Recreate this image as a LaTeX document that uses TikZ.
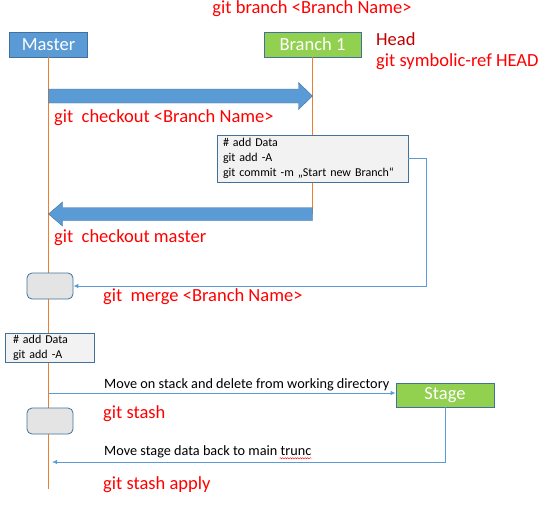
\documentclass[tikz,border=0pt]{standalone}
\usepackage{fontspec}
\setmainfont{Carlito}
\usetikzlibrary{arrows.meta,calc,decorations.pathmorphing}
\definecolor{mblue}{HTML}{5B9BD5}
\definecolor{bblue}{HTML}{41719C}
\definecolor{lgreen}{HTML}{92D050}
\definecolor{orng}{HTML}{ED7D31}
\definecolor{headred}{HTML}{C00000}
\definecolor{boxgray}{HTML}{F2F2F2}
\definecolor{rgray}{HTML}{E4E4E4}
\begin{document}
\begin{tikzpicture}[x=1pt,y=-1pt,
  hdr/.style={draw=bblue, line width=0.8pt, text=white, font=\fontsize{18.5}{20}\selectfont, inner sep=0pt, minimum height=25pt},
  cmd/.style={text=red, font=\fontsize{18.5}{20}\selectfont, anchor=west, inner sep=0pt},
  note/.style={text=black, font=\fontsize{14.25}{16}\selectfont, anchor=west, inner sep=0pt},
  codebox/.style={draw=bblue, fill=boxgray, line width=0.8pt, font=\fontsize{12}{15}\selectfont, align=left, inner ysep=0pt},
  rbox/.style={draw=bblue, fill=rgray, line width=0.8pt, rounded corners=5pt, minimum width=46pt, minimum height=26pt, inner sep=0pt},
  lifeline/.style={draw=orng, line width=1.6pt},
  conn/.style={draw=mblue, line width=0.9pt, -{Latex[length=5pt,width=4.5pt]}},
  bigarrow/.style={fill=mblue, draw=bblue, line width=0.4pt}
]
\useasboundingbox (0,0) rectangle (550,506);

% header boxes
\node[hdr, fill=mblue, minimum width=78pt] (master) at (48.5,44.5) {Master};
\node[hdr, fill=lgreen, minimum width=97pt] (branch) at (312.5,44.5) {Branch 1};

% lifeline end points
\coordinate (mend) at (48.5,489);
\coordinate (bend) at (312.5,214);
\draw[lifeline] (master.south) -- (mend);
\draw[lifeline] (branch.south) -- (bend);

% big arrows
\coordinate (ra1) at (48.5,96);
\coordinate (ra2) at (312.5,96);
\filldraw[bigarrow] ($(ra1)+(0,-7)$) -- ($(ra2)+(-14,-7)$) -- ($(ra2)+(-14,-13.5)$) -- (ra2)
  -- ($(ra2)+(-14,13.5)$) -- ($(ra2)+(-14,7)$) -- ($(ra1)+(0,7)$) -- cycle;
\coordinate (la1) at (312.5,214);
\coordinate (la2) at (48.5,214);
\filldraw[bigarrow] ($(la1)+(0,-6.5)$) -- ($(la2)+(14,-6.5)$) -- ($(la2)+(14,-12)$) -- (la2)
  -- ($(la2)+(14,12)$) -- ($(la2)+(14,6.5)$) -- ($(la1)+(0,6.5)$) -- cycle;

% boxes
\node[codebox, minimum width=191pt, minimum height=47pt, inner xsep=6pt, text width=179pt] (commit) at (312.5,158.5)
  {\# add Data\\git add -A\\git commit -m „Start new Branch“};
\node[rbox] (rb1) at (50,286) {};
\node[codebox, minimum width=89pt, minimum height=29pt, inner xsep=8pt, text width=73pt] (small) at (49.5,347.5)
  {\# add Data\\git add -A};
\node[rbox] (rb2) at (50,421) {};
\node[hdr, fill=lgreen, minimum width=98pt, minimum height=24pt] (stage) at (445,395) {Stage};

% thin connectors
\coordinate (c1) at (426,158);
\draw[conn] (commit.east |- c1) -- (c1) |- (rb1.east);
\coordinate (s0) at (48.5,393);
\draw[conn] (s0) -- (s0 -| stage.west);
\coordinate (s1) at (52,462);
\draw[conn] (stage.south) |- (s1);

% texts
\node[text=red, font=\fontsize{18.5}{20}\selectfont, inner sep=0pt] (gb) at (312,9) {git branch <Branch Name>};
\node[cmd, text=headred] (head) at (376,39) {Head};
\node[cmd] (sym) at (376,62) {git symbolic-ref HEAD};
\node[cmd] (co1) at (54,118) {git\ \ checkout <Branch Name>};
\node[cmd] (co2) at (54,238) {git\ \ checkout master};
\node[cmd] (merge) at (103,297) {git\ \ merge <Branch Name>};
\node[cmd] (stash) at (103,414) {git stash};
\node[cmd] (apply) at (103,485) {git stash apply};
\node[note] (move1) at (104,385) {Move on stack and delete from working directory};
\node[note] (move2) at (104,452) {Move stage data back to main trunc};
\draw[red, line width=0.4pt, decorate, decoration={snake, amplitude=0.6pt, segment length=2.5pt}]
  ($(move2.base east)+(-32,2.5)$) -- ($(move2.base east)+(0,2.5)$);
\end{tikzpicture}
\end{document}
